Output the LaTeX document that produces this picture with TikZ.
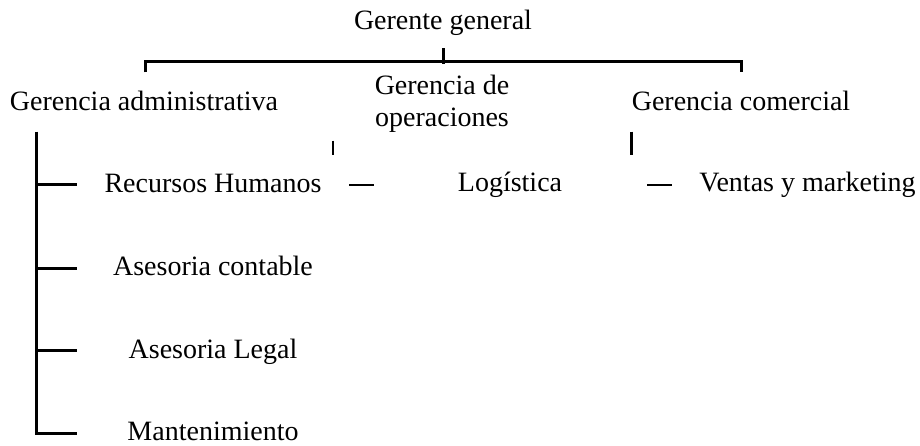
\documentclass[tikz,border=0pt]{standalone}
\usepackage{fontspec}
\setmainfont{Liberation Serif}
\tikzset{
  lbl/.style={anchor=base, inner sep=0pt, font=\fontsize{28}{33}\selectfont, align=center},
  conn/.style={line width=3pt, line cap=butt},
  thin/.style={line width=2.8pt, line cap=butt}
}
\begin{document}
\begin{tikzpicture}[x=1pt,y=-1pt]
\useasboundingbox (0,0) rectangle (920,446);
% nodes
\node[lbl] (gg) at (443,29.3) {Gerente general};
\node[lbl] (ga) at (144,111) {Gerencia administrativa};
\node[lbl] (god) at (442,95) {Gerencia de};
\node[lbl] (go) at (442,126.7) {operaciones};
\node[lbl] (gc) at (741,111) {Gerencia comercial};
\node[lbl] (rh) at (213,192.7) {Recursos Humanos};
\node[lbl] (ac) at (213,275.3) {Asesoria contable};
\node[lbl] (al) at (213,358) {Asesoria Legal};
\node[lbl] (mt) at (213,440.5) {Mantenimiento};
\node[lbl] (lo) at (510,191.7) {Logística};
\node[lbl] (vm) at (807.5,192) {Ventas y marketing};
% coordinates
\coordinate (top1) at (443,48.5);
\coordinate (top2) at (443,64.5);
\coordinate (hl) at (145,61.3);
\coordinate (hr) at (741,61.3);
\coordinate (dl) at (145,72.5);
\coordinate (dr) at (741,72.5);
\coordinate (av1) at (36.3,131.7);
\coordinate (av2) at (36.3,433.3);
\coordinate (b1a) at (36.3,185);
\coordinate (b1b) at (76.7,185);
\coordinate (b2a) at (36.3,268);
\coordinate (b2b) at (76.7,268);
\coordinate (b3a) at (36.3,350.7);
\coordinate (b3b) at (76.7,350.7);
\coordinate (b4b) at (76.7,433.3);
\coordinate (ov1) at (333,140.7);
\coordinate (ov2) at (333,155);
\coordinate (cv1) at (631.3,131.7);
\coordinate (cv2) at (631.3,155);
\coordinate (od1) at (349.3,185);
\coordinate (od2) at (374.3,185);
\coordinate (cd1) at (647.3,185);
\coordinate (cd2) at (672,185);
% connectors
\draw[conn] (top1) -- (top2);
\draw[conn] (dl) -- (hl) -- (hr) -- (dr);
\draw[conn] (av1) -- (av2) -- (b4b);
\draw[conn] (b1a) -- (b1b);
\draw[conn] (b2a) -- (b2b);
\draw[conn] (b3a) -- (b3b);
\draw[thin] (ov1) -- (ov2);
\draw[thin] (cv1) -- (cv2);
\draw[thin] (od1) -- (od2);
\draw[thin] (cd1) -- (cd2);
\end{tikzpicture}
\end{document}
